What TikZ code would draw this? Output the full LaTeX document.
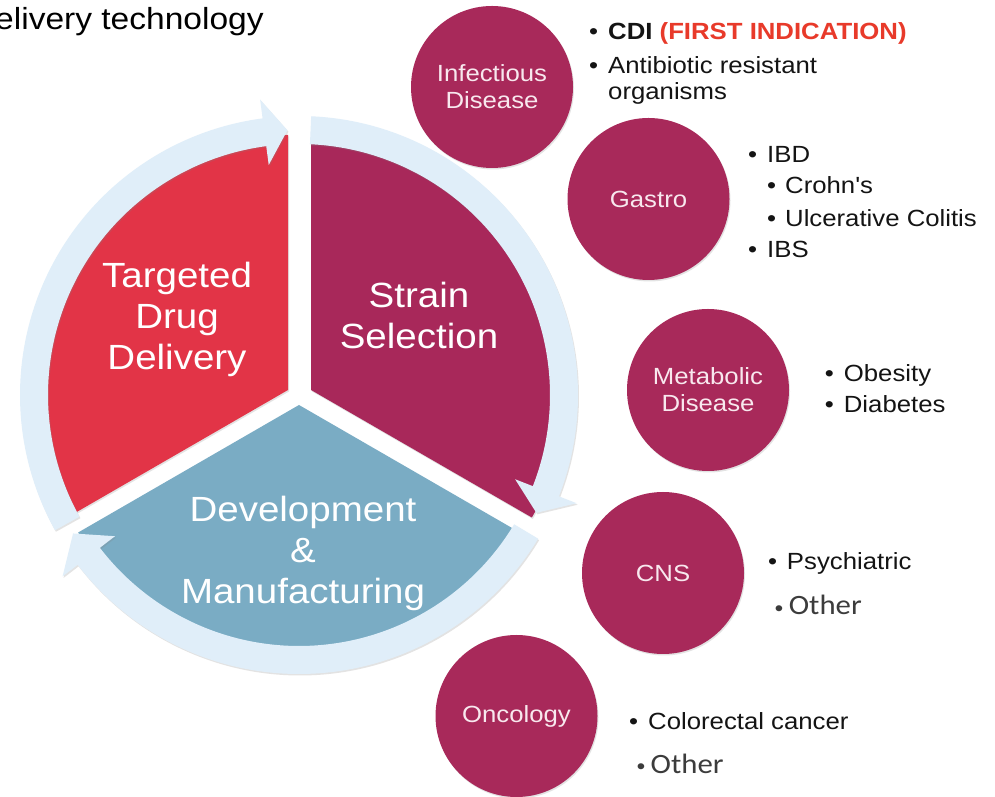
\documentclass[tikz,border=0pt]{standalone}
\usepackage{fontspec}
\setmainfont{Liberation Sans}[FakeStretch=1.1,Ligatures=TeXOff]
\newfontfamily\calfont{Carlito}[FakeStretch=1.1]
\usetikzlibrary{shadows}
\definecolor{redsec}{HTML}{E23447}
\definecolor{magsec}{HTML}{A8285A}
\definecolor{bluesec}{HTML}{7AACC4}
\definecolor{ringc}{HTML}{E0EEF9}
\definecolor{circc}{HTML}{A8295A}
\definecolor{circtext}{HTML}{F8E8EE}
\definecolor{firstind}{HTML}{E83A2A}
\definecolor{othergray}{HTML}{3C3C3C}
\newcommand{\smallblt}{\raisebox{1.5pt}{\fontsize{17}{17}\selectfont •}}
\begin{document}
\begin{tikzpicture}[x=1pt,y=1pt,
  softshadow/.style={drop shadow={shadow xshift=1pt,shadow yshift=-1.5pt,opacity=0.22}},
  sector/.style={softshadow},
  ringarrow/.style={fill=ringc,softshadow},
  sectxt/.style={text=white,align=center,inner sep=0pt,font=\fontsize{35}{41}\selectfont},
  disease/.style={circle,fill=circc,minimum size=162pt,inner sep=0pt,text=circtext,align=center,
    font=\fontsize{23.4}{27}\selectfont,softshadow},
  blt/.style={anchor=base west,inner sep=0pt,font=\fontsize{23.4}{27}\selectfont,text=black!92},
  oth/.style={anchor=base west,inner sep=0pt,font=\calfont\fontsize{28}{32}\selectfont,text=othergray}]
\clip (0,0) rectangle (995,797);
\fill[white] (0,0) rectangle (995,797);

% header text (cut at the left border, as in the picture)
\node[anchor=base west,inner sep=0pt,font=\fontsize{30.5}{34}\selectfont] (hdr) at (-5,767.5) {elivery technology};

% sectors
\fill[redsec,sector] (288,407) -- ++(0,255) arc[start angle=90,end angle=210,radius=255] -- cycle;
\fill[magsec,sector] (311,407) -- ++(0,255) arc[start angle=90,end angle=-30,radius=255] -- cycle;
\fill[bluesec,sector] (299,392) -- ++(210:255) arc[start angle=210,end angle=330,radius=255] -- cycle;

% circular arrows
\begin{scope}[shift={(299,402)}]
\fill[ringarrow] (209:279) arc[start angle=209,end angle=97.5,radius=279] -- (97.5:298) -- (92.5:265)
  -- (97.5:232) -- (97.5:251) arc[start angle=97.5,end angle=209,radius=251] -- cycle;
\fill[ringarrow] (87.5:279) arc[start angle=87.5,end angle=-21.3,radius=279] -- (-21.3:298) -- (-26.4:265)
  -- (-21.3:232) -- (-21.3:251) arc[start angle=-21.3,end angle=87.5,radius=251] -- cycle;
\fill[ringarrow] (-31:279) arc[start angle=-31,end angle=-142.5,radius=279] -- (-142.5:298) -- (-148.5:265)
  -- (-142.5:232) -- (-142.5:251) arc[start angle=-142.5,end angle=-31,radius=251] -- cycle;
\end{scope}

% sector labels
\node[sectxt] (tdd) at (177,477.7) {Targeted\\Drug\\Delivery};
\node[sectxt] (ss) at (419,481.5) {Strain\\Selection};
\node[sectxt] (dm) at (303,244) {Development\\\&\\Manufacturing};

% disease circles
\node[disease] (inf) at (492,710) {Infectious\\Disease};
\node[disease] (gas) at (648.5,598) {Gastro};
\node[disease] (met) at (708,407) {Metabolic\\Disease};
\node[disease] (cns) at (663,224) {CNS};
\node[disease] (onc) at (516.5,81) {Oncology};

% bullet lists
\node[blt] (cdi) at (608,757) {\llap{•\hspace{10pt}}\textbf{CDI} \textcolor{firstind}{\textbf{(FIRST INDICATION)}}};
\node[blt] (abr) at (608,723.7) {\llap{•\hspace{10pt}}Antibiotic resistant};
\node[blt] (org) at (608,697.7) {organisms};
\node[blt] (ibd) at (767,634) {\llap{•\hspace{10pt}}IBD};
\node[blt] (cro) at (785,603) {\llap{•\hspace{9pt}}Crohn's};
\node[blt] (ulc) at (785,570) {\llap{•\hspace{9pt}}Ulcerative Colitis};
\node[blt] (ibs) at (767,539) {\llap{•\hspace{10pt}}IBS};
\node[blt] (obe) at (843.7,415.3) {\llap{•\hspace{10pt}}Obesity};
\node[blt] (dia) at (843.7,384) {\llap{•\hspace{10pt}}Diabetes};
\node[blt] (psy) at (786.8,227) {\llap{•\hspace{10pt}}Psychiatric};
\node[oth] (oth1) at (788.6,182) {\llap{\smallblt\hspace{5pt}}Other};
\node[blt] (col) at (648,67) {\llap{•\hspace{10pt}}Colorectal cancer};
\node[oth] (oth2) at (650.5,23.7) {\llap{\smallblt\hspace{5pt}}Other};
\end{tikzpicture}
\end{document}
